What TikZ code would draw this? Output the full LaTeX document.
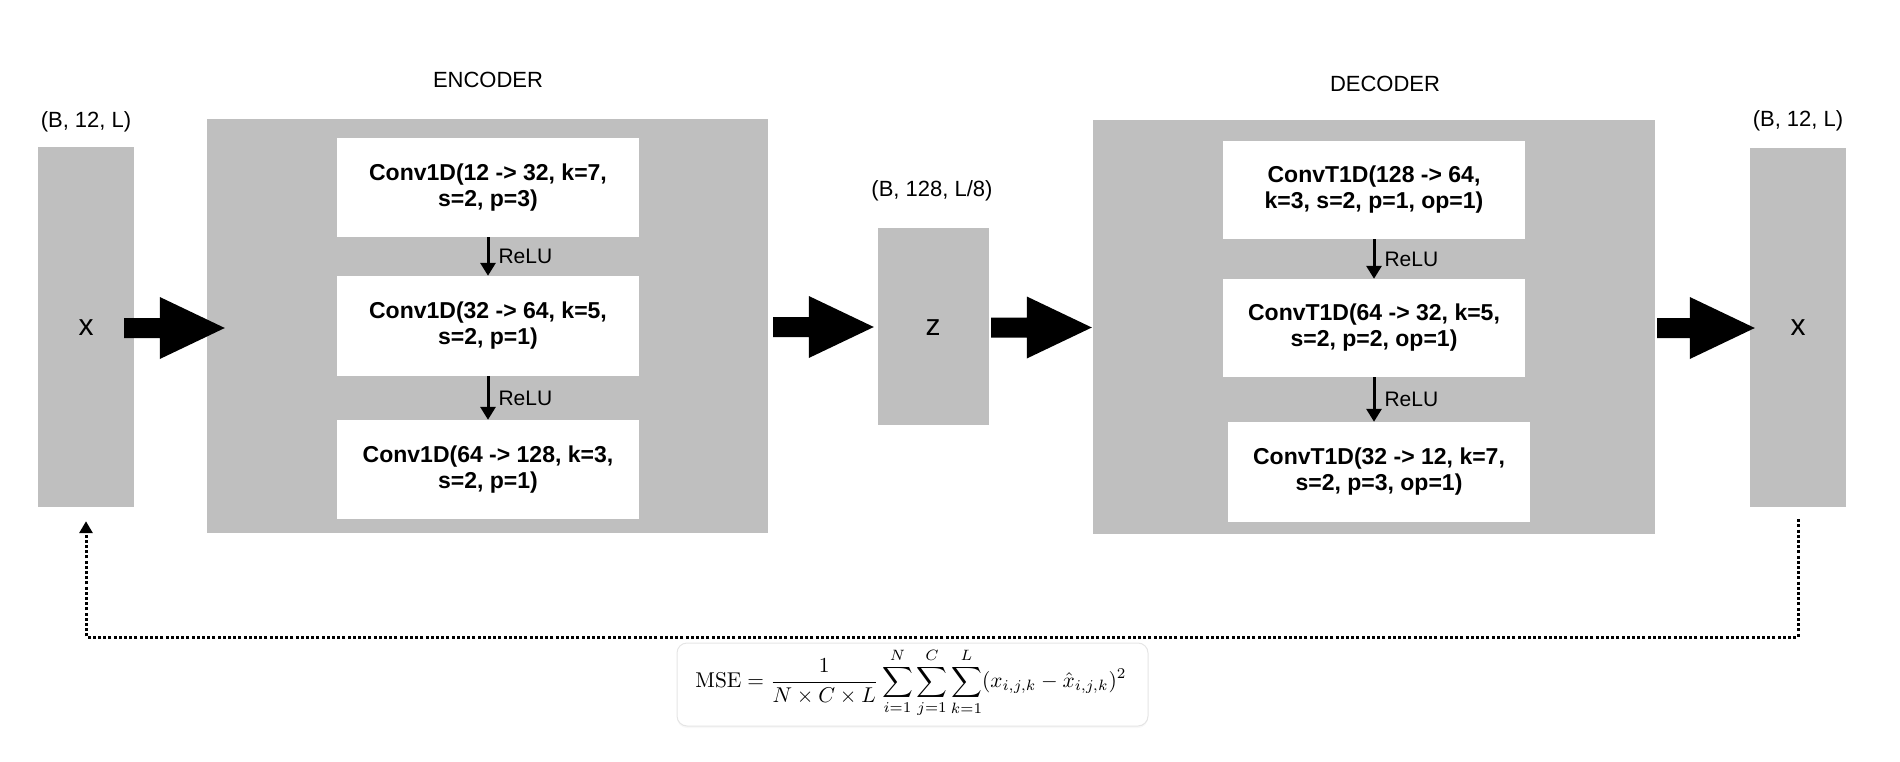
\documentclass[tikz,border=0pt]{standalone}
\usepackage[no-math]{fontspec}
\setmainfont{Liberation Sans}
\usepackage{graphicx}
\usetikzlibrary{arrows.meta,calc,shadows}
\definecolor{boxgray}{RGB}{191,191,191}
\newcommand\fatarrow[2]{%
  \fill let \p1=(#1), \p2=(#2) in
    (\x1,\y1+10pt) -- (\x2-65pt,\y1+10pt) -- (\x2-65pt,\y1+31pt) -- (\x2,\y1)
    -- (\x2-65pt,\y1-31pt) -- (\x2-65pt,\y1-10pt) -- (\x1,\y1-10pt) -- cycle;}
\begin{document}
\begin{tikzpicture}[x=1pt,y=-1pt,
  graybox/.style={fill=boxgray, draw=none, inner sep=0pt, rectangle},
  layerbox/.style={fill=white, draw=none, inner sep=0pt, minimum width=302pt, align=center,
    font=\bfseries\fontsize{23}{26}\selectfont},
  lbl/.style={font=\fontsize{22}{26}\selectfont, inner sep=0pt},
  relu/.style={-{Triangle[length=13pt,width=15pt]}, line width=3pt},
  relulbl/.style={font=\fontsize{21}{25}\selectfont, anchor=west, inner sep=0pt, xshift=9pt},
  fb/.style={line width=3pt, dash pattern=on 3pt off 2.2pt},
  var/.style={font=\fontsize{30}{32}\selectfont, inner sep=0pt}
]
\useasboundingbox (0,0) rectangle (1900,762);

% main blocks
\node[graybox, minimum width=96pt, minimum height=360pt] (xin) at (86,327) {};
\node[graybox, minimum width=561pt, minimum height=414pt] (enc) at (487.5,326) {};
\node[graybox, minimum width=111pt, minimum height=197pt] (z) at (933.5,326.5) {};
\node[graybox, minimum width=562pt, minimum height=414pt] (dec) at (1374,327) {};
\node[graybox, minimum width=96pt, minimum height=359pt] (xout) at (1798,327.5) {};

\node[var] (xinl) at (86,328) {x};
\node[var] (zl) at (933,328) {z};
\node[var] (xoutl) at (1798,328) {x};

% labels
\node[lbl] (lxin) at (86,122) {(B, 12, L)};
\node[lbl] (lenc) at (488,80) {ENCODER};
\node[lbl] (lz) at (932,191) {(B, 128, L/8)};
\node[lbl] (ldec) at (1385,84) {DECODER};
\node[lbl] (lxout) at (1798,121) {(B, 12, L)};

% encoder layers
\node[layerbox, minimum height=99pt] (e1) at (488,187.5) {Conv1D(12 -> 32, k=7,\\s=2, p=3)};
\node[layerbox, minimum height=100pt] (e2) at (488,326) {Conv1D(32 -> 64, k=5,\\s=2, p=1)};
\node[layerbox, minimum height=99pt] (e3) at (488,469.5) {Conv1D(64 -> 128, k=3,\\s=2, p=1)};
\draw[relu] (e1) -- (e2) node[midway, relulbl] {ReLU};
\draw[relu] (e2) -- (e3) node[midway, relulbl] {ReLU};

% decoder layers
\node[layerbox, minimum height=98pt] (d1) at (1374,190) {ConvT1D(128 -> 64,\\k=3, s=2, p=1, op=1)};
\node[layerbox, minimum height=98pt] (d2) at (1374,328) {ConvT1D(64 -> 32, k=5,\\s=2, p=2, op=1)};
\node[layerbox, minimum height=100pt] (d3) at (1379,472) {ConvT1D(32 -> 12, k=7,\\s=2, p=3, op=1)};
\draw[relu] (d1) -- (d2) node[midway, relulbl] {ReLU};
\draw[relu] (d2.south) -- (d2.south |- d3.north) node[midway, relulbl] {ReLU};

% fat arrows
\coordinate (a1s) at ($(xin.east)+(-10,1)$);
\coordinate (a1t) at ($(enc.west)+(18,0)$);
\fatarrow{a1s}{a1t}
\coordinate (a2s) at ($(enc.east)+(5,1)$);
\coordinate (a2t) at ($(z.west)+(-4,0)$);
\fatarrow{a2s}{a2t}
\coordinate (a3s) at ($(z.east)+(2,1)$);
\coordinate (a3t) at ($(dec.west)+(-1,0)$);
\fatarrow{a3s}{a3t}
\coordinate (a4s) at ($(dec.east)+(2,1)$);
\coordinate (a4t) at ($(xout.west)+(5,0)$);
\fatarrow{a4s}{a4t}

% feedback loop
\coordinate (fbs) at ($(xout.south)+(0,12)$);
\coordinate (fbe) at ($(xin.south)+(0,14)$);
\coordinate (fby) at (0,637);
\draw[fb, -{Triangle[length=12pt,width=13pt]}] (fbs) -- (fbs |- fby) -- (fbe |- fby) -- (fbe);

% loss box
\node[fill=white, draw=black!10, line width=1pt, rounded corners=10pt,
  minimum width=471pt, minimum height=83pt,
  drop shadow={opacity=0.06, shadow xshift=0pt, shadow yshift=-2pt}] (mse) at (912.5,684.5) {};
\node[inner sep=0pt] (msef) at (911,683) {\scalebox{2.14}{$\displaystyle \mathrm{MSE}=\frac{1}{N\times C\times L}\sum_{i=1}^{N}\sum_{j=1}^{C}\sum_{k=1}^{L}(x_{i,j,k}-\hat{x}_{i,j,k})^2$}};
\end{tikzpicture}
\end{document}
